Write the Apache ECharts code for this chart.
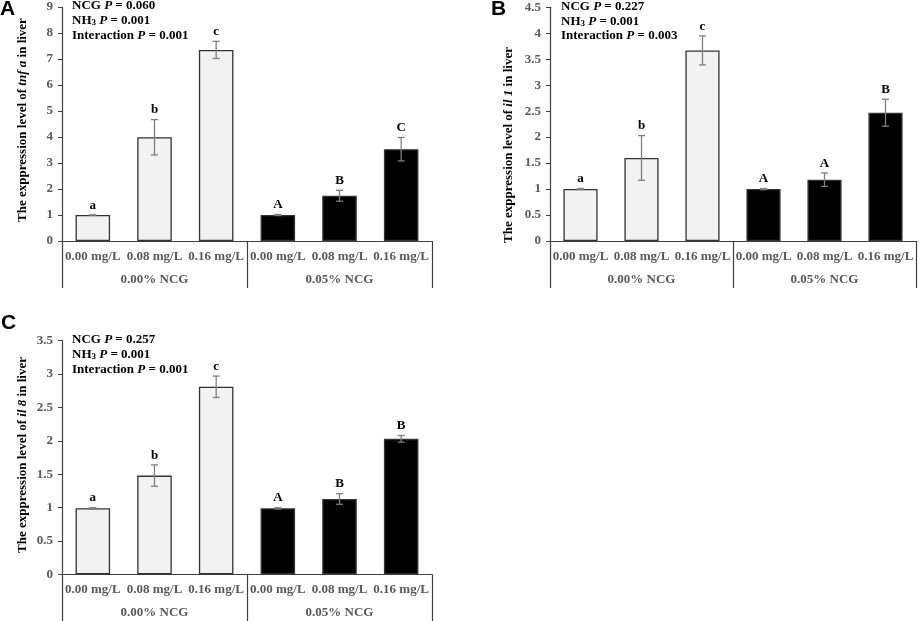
<!DOCTYPE html>
<html>
<head>
    <meta charset="UTF-8">
    <title>Liver cytokine expression</title>
    <script src="https://cdn.jsdelivr.net/npm/echarts@6/dist/echarts.min.js"></script>
    <style>
        html, body { margin: 0; padding: 0; background: #fff; }
        #main { width: 920px; height: 621px; }
    </style>
</head>
<body>
    <div id="main"></div>
    <script type="text/javascript">
        // categories
        const doses = ['0.00 mg/L', '0.08 mg/L', '0.16 mg/L', '0.00 mg/L', '0.08 mg/L', '0.16 mg/L'];
        const groups = ['0.00% NCG', '0.05% NCG'];

        // panel A - tnf a
        const tnfMean = [1.00, 3.99, 7.35, 1.00, 1.74, 3.53];
        const tnfSd = [0.01, 0.68, 0.33, 0.02, 0.21, 0.45];
        const tnfLetters = ['a', 'b', 'c', 'A', 'B', 'C'];
        const tnfP = ['0.060', '0.001', '0.001'];

        // panel B - il 1
        const il1Mean = [1.00, 1.60, 3.67, 1.00, 1.18, 2.47];
        const il1Sd = [0.01, 0.43, 0.28, 0.01, 0.13, 0.26];
        const il1Letters = ['a', 'b', 'c', 'A', 'A', 'B'];
        const il1P = ['0.227', '0.001', '0.003'];

        // panel C - il 8
        const il8Mean = [0.99, 1.48, 2.81, 0.99, 1.13, 2.03];
        const il8Sd = [0.01, 0.16, 0.16, 0.01, 0.08, 0.05];
        const il8Letters = ['a', 'b', 'c', 'A', 'B', 'B'];
        const il8P = ['0.257', '0.001', '0.001'];

        const SERIF = '"Liberation Serif", "Times New Roman", serif';
        const GRAY = '#595959';
        const AXIS = '#404040';

        let chart = echarts.init(document.getElementById('main'));

        const panels = [
            { mean: tnfMean, sd: tnfSd, letters: tnfLetters, p: tnfP, gene: 'tnf a', max: 9, step: 1,
              grid: { left: 62, top: 7, width: 370, height: 234 }, label: 'A', lx: 0, ly: 9,
              title: [22.5, 120], ann: [72, 6] },
            { mean: il1Mean, sd: il1Sd, letters: il1Letters, p: il1P, gene: 'il 1', max: 4.5, step: 0.5,
              grid: { left: 550, top: 7.3, width: 366, height: 233.7 }, label: 'B', lx: 491, ly: 9,
              title: [508.5, 145], ann: [561, 6.7] },
            { mean: il8Mean, sd: il8Sd, letters: il8Letters, p: il8P, gene: 'il 8', max: 3.5, step: 0.5,
              grid: { left: 62, top: 340.7, width: 370, height: 233.7 }, label: 'C', lx: 1, ly: 323,
              title: [23, 455], ann: [72, 340] }
        ];

        function errorBars(letters) {
            return function (params, api) {
                const i = api.value(0), m = api.value(1), s = api.value(2);
                const top = api.coord([i, m + s]);
                const bot = api.coord([i, m - s]);
                const w = 3.5;
                const st = { stroke: '#7f7f7f', lineWidth: 1.3 };
                return {
                    type: 'group',
                    children: [
                        { type: 'line', shape: { x1: top[0], y1: top[1], x2: bot[0], y2: bot[1] }, style: st },
                        { type: 'line', shape: { x1: top[0] - w, y1: top[1], x2: top[0] + w, y2: top[1] }, style: st },
                        { type: 'line', shape: { x1: bot[0] - w, y1: bot[1], x2: bot[0] + w, y2: bot[1] }, style: st },
                        { type: 'text', style: {
                            text: letters[params.dataIndex], x: top[0], y: top[1] - 3,
                            align: 'center', verticalAlign: 'bottom',
                            fill: '#000', font: 'bold 13px ' + SERIF } }
                    ]
                };
            };
        }

        const grids = [], xAxes = [], yAxes = [], series = [], graphics = [];
        const richAnn = {
            b: { fontFamily: SERIF, fontWeight: 'bold', fontSize: 13, fill: '#000', color: '#000' },
            i: { fontFamily: SERIF, fontWeight: 'bold', fontStyle: 'italic', fontSize: 13, color: '#000' },
            s: { fontFamily: SERIF, fontWeight: 'bold', fontSize: 9, color: '#000', verticalAlign: 'bottom', lineHeight: 8 }
        };
        const richTitle = {
            b: { fontFamily: SERIF, fontWeight: 'bold', fontSize: 13, color: GRAY },
            i: { fontFamily: SERIF, fontWeight: 'bold', fontStyle: 'italic', fontSize: 13, color: GRAY }
        };

        panels.forEach((p, k) => {
            grids.push(p.grid);
            xAxes.push({
                type: 'category', gridIndex: k, data: doses, position: 'bottom',
                axisLine: { onZero: false, lineStyle: { color: AXIS, width: 1.2 } },
                axisTick: { show: false },
                axisLabel: { interval: 0, margin: 9, color: GRAY, fontWeight: 'bold', fontSize: 13, fontFamily: SERIF }
            });
            xAxes.push({
                type: 'category', gridIndex: k, data: groups, position: 'bottom',
                axisLine: { show: false },
                axisTick: { show: true, interval: 0, length: 47, lineStyle: { color: AXIS, width: 1.2 } },
                axisLabel: { interval: 0, margin: 32, color: GRAY, fontWeight: 'bold', fontSize: 13, fontFamily: SERIF }
            });
            yAxes.push({
                type: 'value', gridIndex: k, min: 0, max: p.max, interval: p.step,
                axisLine: { show: true, lineStyle: { color: AXIS, width: 1.2 } },
                axisTick: { show: true, length: 4, lineStyle: { color: AXIS } },
                splitLine: { show: false },
                axisLabel: { margin: 9, color: GRAY, fontWeight: 'bold', fontSize: 13, fontFamily: SERIF }
            });
            series.push({
                type: 'bar', xAxisIndex: 2 * k, yAxisIndex: k, data: p.mean, barWidth: '56%',
                itemStyle: {
                    color: params => params.dataIndex < 3 ? '#f2f2f2' : '#000',
                    borderColor: '#333', borderWidth: 1.3
                },
                silent: true
            });
            series.push({
                type: 'custom', xAxisIndex: 2 * k, yAxisIndex: k,
                data: p.mean.map((m, i) => [i, m, p.sd[i]]),
                encode: { x: 0, y: 1 },
                renderItem: errorBars(p.letters), z: 3, silent: true
            });

            // panel letter
            graphics.push({ type: 'text', left: null, x: p.lx, y: p.ly, style: {
                text: p.label, font: 'bold 21px "Liberation Sans", Arial, sans-serif',
                fill: '#000', verticalAlign: 'middle' } });
            // axis title
            graphics.push({ type: 'text', x: p.title[0], y: p.title[1], rotation: Math.PI / 2, style: {
                text: '{b|The exppression level of }{i|' + p.gene + '}{b| in liver}',
                rich: richTitle, align: 'center', verticalAlign: 'middle' } });
            // statistics
            const lines = [
                '{b|NCG }{i|P}{b| = ' + p.p[0] + '}',
                '{b|NH}{s|3}{b| }{i|P}{b| = ' + p.p[1] + '}',
                '{b|Interaction }{i|P}{b| = ' + p.p[2] + '}'
            ];
            lines.forEach((t, j) => {
                graphics.push({ type: 'text', x: p.ann[0], y: p.ann[1] + j * 14.7, style: {
                    text: t, rich: richAnn, verticalAlign: 'middle' } });
            });
        });

        chart.setOption({
            animation: false,
            textStyle: { fontFamily: SERIF },
            grid: grids,
            xAxis: xAxes,
            yAxis: yAxes,
            series: series,
            graphic: graphics
        });
    </script>
</body>
</html>
